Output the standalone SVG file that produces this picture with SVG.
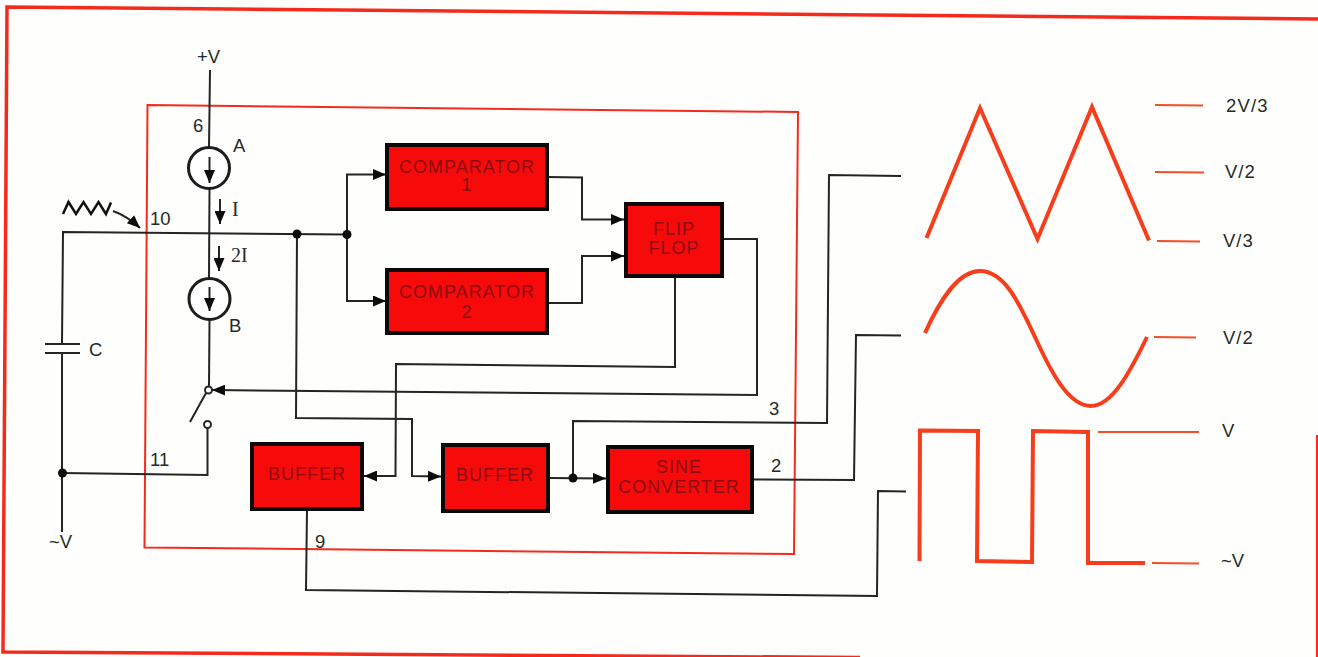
<svg xmlns="http://www.w3.org/2000/svg" width="1318" height="657" viewBox="0 0 1318 657">
<style>
text{font-family:"Liberation Sans",Arial,sans-serif;font-size:18.5px;fill:#232b28}
.s{font-family:"Liberation Serif","Times New Roman",serif;font-size:20px}
.w{fill:none;stroke:#232426;stroke-width:2;stroke-linejoin:miter}
.box{fill:#f60a0a;stroke:#0c0808;stroke-width:4}
.bt{fill:#8c0c12;font-size:18px;text-anchor:middle;letter-spacing:1px}
.frame{fill:none;stroke:#f62a1c}
.wave{fill:none;stroke:#f63d1c;stroke-width:4;stroke-linejoin:miter}
.tick{fill:none;stroke:#f2502a;stroke-width:2}
.dot{fill:#0c0c0c}
.sw{fill:#fff;stroke:#26282a;stroke-width:2}
.src{fill:#fff;stroke:#1c1c1c;stroke-width:3}
</style>
<defs>
<marker id="a" markerUnits="userSpaceOnUse" markerWidth="13" markerHeight="11" refX="13" refY="5.5" orient="auto"><path d="M0,0 L13,5.5 L0,11 Z" fill="#0c0c0c"/></marker>
</defs>
<rect width="1318" height="657" fill="#fefefc"/>
<g id="frames">
<path class="frame" stroke-width="3.5" d="M1318,19 L7,7 L3,652 L860,657.5"/>
<path class="frame" stroke-width="2" d="M1317,435 L1317,657"/>
<path class="frame" stroke-width="2" d="M147.5,105 L798,112 L794,554 L144.5,547.5 Z"/>
</g>
<g id="connectors">
<path class="w" d="M210,70 L209,148"/>
<path class="w" d="M209.5,189 L209,278"/>
<path class="w" d="M209.5,320 L209,386"/>
<path class="w" d="M206,393 L190,422"/>
<path class="w" d="M207.5,428 L207.5,475 L62,473"/>
<path class="w" d="M62,353 L62,532"/>
<path class="w" d="M62,344 L63,232 L347,234.5"/>
<path class="w" d="M45,344 L80,344 M45,353 L80,353"/>
<path class="w" marker-end="url(#a)" d="M347,234.5 L347,174.5 L386,174.5"/>
<path class="w" marker-end="url(#a)" d="M347,234.5 L347,301 L386,301"/>
<path class="w" marker-end="url(#a)" d="M297,234 L296,418 L412,419 L412,476 L441,476.5"/>
<path class="w" marker-end="url(#a)" d="M675,277 L675,367 L396,364 L395.5,476 L364,476"/>
<path class="w" marker-end="url(#a)" d="M723,239 L757,239 L757,395 L212,390"/>
<path class="w" marker-end="url(#a)" d="M548,177 L582,177.5 L582,219.5 L624,219.5"/>
<path class="w" marker-end="url(#a)" d="M548,303 L582,303 L582,256 L624,256"/>
<path class="w" marker-end="url(#a)" d="M549,478 L606,478.5"/>
<path class="w" d="M573,478 L573,421 L827,423 L829,175 L901,176"/>
<path class="w" d="M753,479.5 L854,480 L856,335 L901,335.5"/>
<path class="w" d="M307,510 L306,590 L877,596 L878,491 L906,491.5"/>
<path class="w" marker-end="url(#a)" d="M113,211 Q127,216 140,228"/>
<path class="w" marker-end="url(#a)" d="M220,199 L220,224"/>
<path class="w" marker-end="url(#a)" d="M219,246 L219,271"/>
<circle class="dot" cx="297" cy="234" r="4.5"/>
<circle class="dot" cx="347" cy="234.5" r="4.5"/>
<circle class="dot" cx="62.5" cy="473" r="4.5"/>
<circle class="dot" cx="573" cy="478" r="4.5"/>
</g>
<g id="signal-triangle-input"><path fill="none" stroke="#111" stroke-width="2.5" d="M63,214 L68.5,202 L76,214 L83.5,202 L91,214 L98.5,202 L106,214 L111,202.5"/></g>
<g id="source-a"><circle class="src" cx="209" cy="168" r="20.5"/><path class="w" marker-end="url(#a)" d="M209.5,157 L209.5,183"/><text x="233" y="152">A</text></g>
<g id="source-b"><circle class="src" cx="209.5" cy="299" r="20.5"/><path class="w" marker-end="url(#a)" d="M209.5,287 L209.5,311"/><text x="229" y="332">B</text></g>
<g id="switch"><circle class="sw" cx="208.5" cy="390" r="3.5"/><circle class="sw" cx="207.5" cy="424.5" r="3.5"/></g>
<g id="comparator-1"><rect class="box" x="387" y="145" width="160" height="64"/><text class="bt" x="467" y="173">COMPARATOR</text><text class="bt" x="467" y="191">1</text></g>
<g id="comparator-2"><rect class="box" x="387" y="270" width="160" height="63"/><text class="bt" x="467" y="298">COMPARATOR</text><text class="bt" x="467" y="318">2</text></g>
<g id="flip-flop"><rect class="box" x="626" y="204" width="96" height="72"/><text class="bt" x="674" y="235">FLIP</text><text class="bt" x="674" y="254">FLOP</text></g>
<g id="buffer-1"><rect class="box" x="252" y="444" width="110" height="65"/><text class="bt" x="307" y="480">BUFFER</text></g>
<g id="buffer-2"><rect class="box" x="443" y="445" width="105" height="66"/><text class="bt" x="495" y="481">BUFFER</text></g>
<g id="sine-converter"><rect class="box" x="608" y="447" width="144" height="65"/><text class="bt" x="679" y="473">SINE</text><text class="bt" x="679" y="493">CONVERTER</text></g>
<g id="labels">
<text x="197" y="63">+V</text>
<text x="193" y="132">6</text>
<text class="s" x="232" y="216">I</text>
<text class="s" x="231" y="262">2I</text>
<text x="150" y="225">10</text>
<text x="89" y="356">C</text>
<text x="150" y="466">11</text>
<text x="49" y="548">~V</text>
<text x="315" y="548">9</text>
<text x="769" y="415">3</text>
<text x="771" y="472">2</text>
</g>
<g id="wave-triangle">
<path class="wave" d="M926.5,238 L980,108 L1037.5,239 L1092,107 L1149,240.5"/>
<path class="tick" d="M1155,105 L1203,105.5 M1155,172 L1204,172.5 M1157,241 L1200,241.5"/>
<text x="1226" y="112" letter-spacing="1.2">2V/3</text><text x="1225" y="178" letter-spacing="1">V/2</text><text x="1223" y="247" letter-spacing="1">V/3</text>
</g>
<g id="wave-sine">
<path class="wave" d="M925,333 C940,300 958,271 980,271 C1005,271 1020,305 1035,337 C1050,370 1068,406 1091,406 C1112,406 1130,372 1147,337"/>
<path class="tick" d="M1154,337 L1196,337.5"/>
<text x="1223" y="344" letter-spacing="1">V/2</text>
</g>
<g id="wave-square">
<path class="wave" d="M919.5,561 L920,430.5 L978,431 L977,561 L1032,562 L1033,431 L1088,432 L1088,563 L1145,563"/>
<path class="tick" d="M1098,432 L1199,432 M1152,563 L1199,563.5"/>
<text x="1222" y="437">V</text><text x="1221" y="567">~V</text>
</g>
</svg>
